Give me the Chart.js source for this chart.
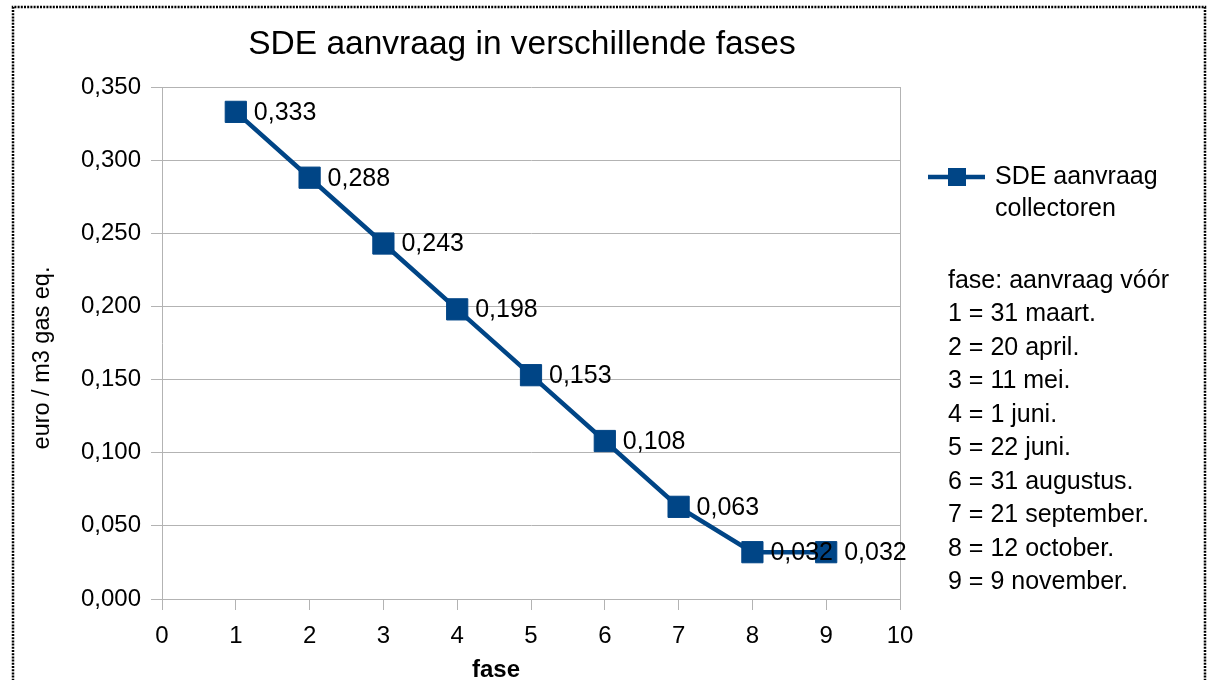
<!DOCTYPE html>
<html>
<head>
<meta charset="utf-8">
<script src="https://cdn.jsdelivr.net/npm/chart.js@4/dist/chart.umd.min.js"></script>
<style>
  html, body { margin: 0; padding: 0; background: #fff; }
  canvas { display: block; }
</style>
</head>
<body>
<canvas id="sdeChart" width="1209" height="680"></canvas>
<script>
// fases en bedragen (euro / m3 gas eq.)
const fases = [1, 2, 3, 4, 5, 6, 7, 8, 9];
const bedragen = [0.333, 0.288, 0.243, 0.198, 0.153, 0.108, 0.063, 0.032, 0.032];
const notities = [
    'fase: aanvraag vóór',
    '1 = 31 maart.',
    '2 = 20 april.',
    '3 = 11 mei.',
    '4 = 1 juni.',
    '5 = 22 juni.',
    '6 = 31 augustus.',
    '7 = 21 september.',
    '8 = 12 october.',
    '9 = 9 november.'
];
const reeksNaam = ['SDE aanvraag', 'collectoren'];

const blauw = '#004586';
const grijs = '#b3b3b3';
const font = '"Liberation Sans", Arial, sans-serif';

const fmt = v => v.toFixed(3).replace('.', ',');

// alles wat Chart.js zelf niet tekent: rand, titel, labels, legenda, notities
const extraPlugin = {
    id: 'extra',
    beforeDraw(chart) {
        const ctx = chart.ctx;
        ctx.save();
        ctx.strokeStyle = '#000';
        ctx.lineWidth = 2.5;
        ctx.setLineDash([2, 1.2]);
        ctx.beginPath();
        ctx.moveTo(13, 700);
        ctx.lineTo(13, 7);
        ctx.lineTo(1205, 7);
        ctx.lineTo(1205, 700);
        ctx.stroke();
        ctx.restore();
    },
    afterDatasetsDraw(chart) {
        const ctx = chart.ctx;
        const meta = chart.getDatasetMeta(0);
        ctx.save();
        ctx.fillStyle = '#000';
        ctx.font = '25px ' + font;
        ctx.textBaseline = 'middle';
        ctx.textAlign = 'left';
        meta.data.forEach((pt, i) => {
            ctx.fillText(fmt(bedragen[i]), pt.x + 18, pt.y + 1);
        });
        ctx.restore();
    },
    afterDraw(chart) {
        const ctx = chart.ctx;
        ctx.save();
        ctx.fillStyle = '#000';
        ctx.textBaseline = 'middle';

        // titel
        ctx.font = '33.5px ' + font;
        ctx.textAlign = 'center';
        ctx.fillText('SDE aanvraag in verschillende fases', 522, 45);

        // as-titels
        ctx.font = 'bold 24px ' + font;
        ctx.fillText('fase', 496, 670);
        ctx.save();
        ctx.translate(43, 358);
        ctx.rotate(-Math.PI / 2);
        ctx.font = '23.5px ' + font;
        ctx.fillText('euro / m3 gas eq.', 0, 0);
        ctx.restore();

        // legenda
        ctx.strokeStyle = blauw;
        ctx.lineWidth = 4.5;
        ctx.beginPath();
        ctx.moveTo(928, 177);
        ctx.lineTo(985, 177);
        ctx.stroke();
        ctx.fillStyle = blauw;
        ctx.fillRect(948, 168, 18, 18);
        ctx.fillStyle = '#000';
        ctx.textAlign = 'left';
        ctx.font = '25px ' + font;
        reeksNaam.forEach((t, i) => ctx.fillText(t, 995, 177 + i * 32));

        // notities
        notities.forEach((t, i) => ctx.fillText(t, 948, 281 + i * 33.5));
        ctx.restore();
    }
};

new Chart(document.getElementById('sdeChart'), {
    type: 'line',
    data: {
        datasets: [{
            label: reeksNaam.join(' '),
            data: fases.map((f, i) => ({ x: f, y: bedragen[i] })),
            borderColor: blauw,
            backgroundColor: blauw,
            borderWidth: 4.5,
            pointStyle: 'rect',
            pointRadius: 15,
            pointHoverRadius: 15,
            pointBorderWidth: 1,
            pointBorderColor: blauw,
            pointBackgroundColor: blauw,
            tension: 0
        }]
    },
    options: {
        responsive: false,
        animation: false,
        events: [],
        layout: { padding: { top: 87, right: 309, left: 0, bottom: 0 } },
        plugins: {
            legend: { display: false },
            tooltip: { enabled: false }
        },
        scales: {
            x: {
                type: 'linear',
                min: 0,
                max: 10,
                afterFit: s => { s.height = 81; },
                ticks: {
                    stepSize: 1,
                    color: '#000',
                    font: { family: font, size: 24 },
                    padding: 12
                },
                grid: {
                    color: c => (c.tick && c.tick.value === 10) ? grijs : 'rgba(0,0,0,0)',
                    tickColor: grijs,
                    tickLength: 11,
                    lineWidth: 1
                },
                border: { color: grijs, width: 1 }
            },
            y: {
                min: 0,
                max: 0.35,
                afterFit: s => { s.width = 162; },
                ticks: {
                    stepSize: 0.05,
                    color: '#000',
                    font: { family: font, size: 24 },
                    padding: 10,
                    callback: v => fmt(v)
                },
                grid: {
                    color: grijs,
                    tickColor: grijs,
                    tickLength: 11,
                    lineWidth: 1
                },
                border: { color: grijs, width: 1 }
            }
        }
    },
    plugins: [extraPlugin]
});
</script>
</body>
</html>
